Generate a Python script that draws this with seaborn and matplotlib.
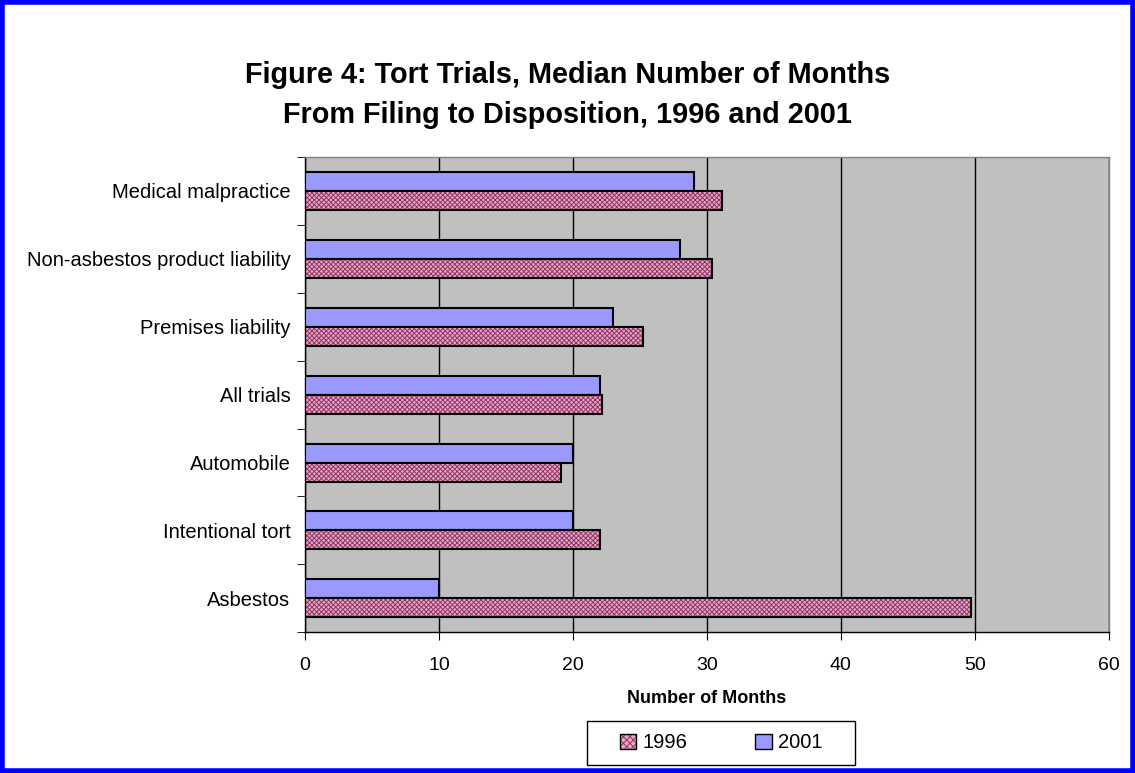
import numpy as np
import pandas as pd
import matplotlib
matplotlib.use("Agg")
import matplotlib.pyplot as plt
import seaborn as sns
from matplotlib.patches import Patch, Rectangle

# Chart data
categories = ["Medical malpractice", "Non-asbestos product liability", "Premises liability",
              "All trials", "Automobile", "Intentional tort", "Asbestos"]
months_1996 = [31.1, 30.4, 25.2, 22.2, 19.1, 22.0, 49.7]
months_2001 = [29.0, 28.0, 23.0, 22.0, 20.0, 20.0, 10.0]
x_ticks = [0, 10, 20, 30, 40, 50, 60]

df = pd.DataFrame({
    "Category": categories * 2,
    "Year": ["2001"] * len(categories) + ["1996"] * len(categories),
    "Months": months_2001 + months_1996,
})

sns.set_style("white")
plt.rcParams["font.family"] = ["Liberation Sans", "DejaVu Sans"]
plt.rcParams["text.color"] = "black"
plt.rcParams["axes.labelcolor"] = "black"
plt.rcParams["xtick.color"] = "black"
plt.rcParams["ytick.color"] = "black"
plt.rcParams["hatch.linewidth"] = 0.7

fig = plt.figure(figsize=(11.35, 7.73), dpi=100)
ax = fig.add_axes([0.2687, 0.182, 0.7083, 0.615])
ax.set_facecolor("#c0c0c0")

colors = {"2001": "#9999ff", "1996": "#dcaac6"}
hatch_color = "#993366"
sns.barplot(data=df, y="Category", x="Months", hue="Year", hue_order=["2001", "1996"],
            order=categories, palette=colors, orient="h", width=0.56, saturation=1,
            edgecolor="black", linewidth=1.5, ax=ax, legend=False, zorder=3)

# 1996 bars get a fine purple hatch; outline redrawn on top in black
for bar in ax.containers[1]:
    bar.set_hatch("xxxxxxx")
    bar.set_edgecolor(hatch_color)
    bar.set_linewidth(0)
    ax.add_patch(Rectangle(bar.get_xy(), bar.get_width(), bar.get_height(),
                           fill=False, edgecolor="black", linewidth=1.5, zorder=4))

ax.set_xlim(0, 60)
ax.set_xticks(x_ticks)
ax.set_ylim(len(categories) - 0.5, -0.5)
ax.xaxis.grid(True, color="black", linewidth=1)
ax.set_axisbelow(True)
ax.tick_params(axis="x", labelsize=14, length=6, pad=12, direction="out", bottom=True)
ax.tick_params(axis="y", which="major", labelsize=14.5, length=0, pad=10.5)
ax.set_yticks(np.arange(-0.5, len(categories), 1), minor=True)
ax.tick_params(axis="y", which="minor", length=6, left=True)
ax.set_ylabel("")
ax.set_xlabel("Number of Months", fontsize=13, fontweight="bold", labelpad=11)

for side in ["left", "bottom"]:
    ax.spines[side].set_color("black")
    ax.spines[side].set_linewidth(1)
for side in ["top", "right"]:
    ax.spines[side].set_color("#808080")
    ax.spines[side].set_linewidth(1)

fig.suptitle("Figure 4: Tort Trials, Median Number of Months\nFrom Filing to Disposition, 1996 and 2001",
             fontsize=20.8, fontweight="bold", y=0.921, linespacing=1.52)

# legend entries, frame drawn separately to get the wide side padding
h1996 = (Patch(facecolor=colors["1996"], edgecolor=hatch_color, hatch="xxxxx", linewidth=0),
         Patch(facecolor="none", edgecolor="black", linewidth=1))
h2001 = Patch(facecolor=colors["2001"], edgecolor="black", linewidth=1)
fig.legend(handles=[h1996, h2001], labels=["1996", "2001"], loc="center",
           bbox_to_anchor=(721 / 1135, 1 - 743 / 773), ncol=2,
           frameon=False, fontsize=14.5, handlelength=0.8, handleheight=0.8,
           handletextpad=0.3, columnspacing=3.4, borderpad=0, borderaxespad=0)
fig.patches.append(Rectangle((587 / 1135, 1 - 765 / 773), 268 / 1135, 44 / 773,
                             transform=fig.transFigure, fill=False, edgecolor="black",
                             linewidth=1))

fig.patches.append(Rectangle((0.002, 0.003), 0.996, 0.994, transform=fig.transFigure,
                             fill=False, edgecolor="#0000ff", linewidth=4))

fig.savefig("out.png", dpi=100, facecolor="white")
